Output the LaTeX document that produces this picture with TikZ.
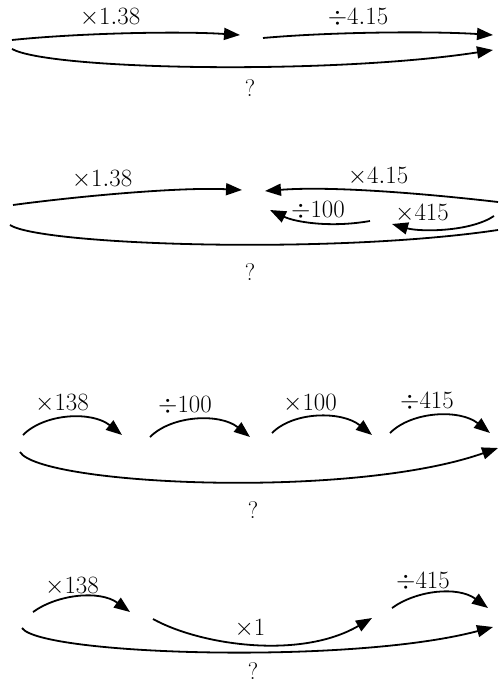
\documentclass[tikz,border=0pt]{standalone}
\usepackage{amsmath,amssymb}
\usetikzlibrary{arrows.meta}

\begin{document}
\begin{tikzpicture}[x=1pt,y=-1pt,>={Triangle[length=16pt,width=12pt]},
  hop/.style={line width=1.8pt,->},
  lbl/.style={font=\fontsize{24}{26}\selectfont,inner sep=0pt}]
  \useasboundingbox (0,0) rectangle (498,684);
  % first row: x1.38 then /4.15
  \coordinate (p1a) at (12,40);   \coordinate (p1b) at (240,35);
  \coordinate (p1c) at (263,38);  \coordinate (p1d) at (493,35);
  \coordinate (p1e) at (12,49);   \coordinate (p1f) at (493,50);
  \draw[hop] (p1a) .. controls (80,33) and (180,31) .. (p1b);
  \draw[hop] (p1c) .. controls (330,32) and (430,31) .. (p1d);
  \draw[hop] (p1e) .. controls (50,70) and (330,75) .. (p1f);
  \node[lbl] (t1a) at (110,18) {$\times1.38$};
  \node[lbl] (t1b) at (358,18) {$\div4.15$};
  \node[lbl] (q1) at (250,88) {?};
  % second row: the way back
  \coordinate (p2a) at (13,205);  \coordinate (p2b) at (242,190);
  \coordinate (p2c) at (498,202); \coordinate (p2d) at (265,191);
  \coordinate (p2e) at (370,221); \coordinate (p2f) at (270,210);
  \coordinate (p2g) at (494,216); \coordinate (p2h) at (392,224);
  \coordinate (p2i) at (10,225);  \coordinate (p2j) at (498,230);
  \draw[hop] (p2a) .. controls (80,196) and (180,187) .. (p2b);
  \draw[hop] (p2c) .. controls (420,193) and (330,186) .. (p2d);
  \draw[hop] (p2e) .. controls (330,228) and (295,222) .. (p2f);
  \draw[hop] (p2g) .. controls (470,232) and (420,232) .. (p2h);
  \draw[line width=1.8pt] (p2i) .. controls (40,245) and (330,255) .. (p2j);
  \node[lbl] (t2a) at (102,180) {$\times1.38$};
  \node[lbl] (t2b) at (378,177) {$\times4.15$};
  \node[lbl] (t2c) at (318,211) {$\div100$};
  \node[lbl] (t2d) at (422,214) {$\times415$};
  \node[lbl] (q2) at (250,272) {?};
  % third row: four hops
  \foreach \i/\xs/\ys/\xe/\ye in {1/23/435/122/435, 2/150/437/250/437,
      3/272/433/372/435, 4/390/433/490/433} {
    \coordinate (h\i s) at (\xs,\ys);
    \coordinate (h\i e) at (\xe,\ye);
    \draw[hop] (h\i s) .. controls +(22,-22) and +(-30,-24) .. (h\i e);
  }
  \coordinate (p3a) at (20,452);  \coordinate (p3b) at (498,448);
  \draw[hop] (p3a) .. controls (40,485) and (350,500) .. (p3b);
  \node[lbl] (t3a) at (62,404) {$\times138$};
  \node[lbl] (t3b) at (185,406) {$\div100$};
  \node[lbl] (t3c) at (310,404) {$\times100$};
  \node[lbl] (t3d) at (427,402) {$\div415$};
  \node[lbl] (q3) at (253,510) {?};
  % fourth row: x138, x1, /415
  \coordinate (p4a) at (33,612);  \coordinate (p4b) at (130,612);
  \coordinate (p4c) at (153,619); \coordinate (p4d) at (372,618);
  \coordinate (p4e) at (392,608); \coordinate (p4f) at (488,608);
  \coordinate (p4g) at (22,628);  \coordinate (p4h) at (493,627);
  \draw[hop] (p4a) .. controls +(25,-18) and +(-30,-22) .. (p4b);
  \draw[hop] (p4c) .. controls (200,645) and (300,660) .. (p4d);
  \draw[hop] (p4e) .. controls +(25,-18) and +(-30,-22) .. (p4f);
  \draw[hop] (p4g) .. controls (40,655) and (350,665) .. (p4h);
  \node[lbl] (t4a) at (72,587) {$\times138$};
  \node[lbl] (t4b) at (250,629) {$\times1$};
  \node[lbl] (t4c) at (423,582) {$\div415$};
  \node[lbl] (q4) at (253,671) {?};
\end{tikzpicture}
\end{document}
